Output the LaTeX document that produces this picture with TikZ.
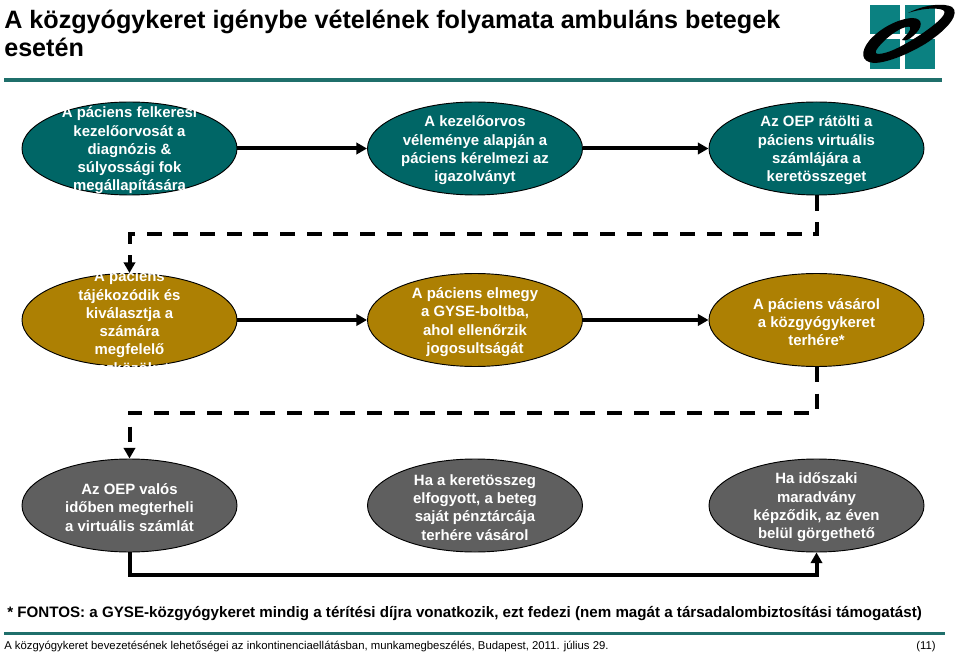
\documentclass[tikz,border=0pt]{standalone}
\usepackage{fontspec}
\setmainfont{Liberation Sans}
\usetikzlibrary{shapes.geometric,arrows.meta}
\definecolor{teal1}{HTML}{006666}
\definecolor{logoteal}{HTML}{0B8181}
\definecolor{ochre}{HTML}{AD8003}
\definecolor{greyb}{HTML}{5F5F5F}
\definecolor{rulec}{HTML}{1F6F6B}
\tikzset{
 x=0.75pt,y=-0.75pt,
 oval/.style={ellipse,draw=black,line width=0.7pt,minimum width=161.25pt,minimum height=69.75pt,inner sep=0pt},
 ovaltext/.style={text=white,align=center,font=\fontsize{11.2pt}{13.7pt}\selectfont\bfseries,inner sep=0pt,yshift=-1.5pt},
 tealoval/.style={oval,fill=teal1},
 ochreoval/.style={oval,fill=ochre},
 greyoval/.style={oval,fill=greyb},
 link/.style={line width=3pt,draw=black},
 harrow/.style={link,-{Triangle[length=8pt,width=8.5pt]}},
 dashlink/.style={link,dash pattern=on 11.4pt off 8.6pt,-{Triangle[length=8pt,width=8.5pt]}},
 rulebar/.style={fill=rulec,draw=none},
}
\begin{document}
\begin{tikzpicture}
\useasboundingbox (0,0) rectangle (960,652);
% title
\node[anchor=north west,inner sep=0pt,align=left,font=\fontsize{18.87pt}{21pt}\selectfont\bfseries] (title) at (4,10) {A közgyógykeret igénybe vételének folyamata ambuláns betegek\\esetén};
% logo
\fill[logoteal] (870,5) rectangle (900,34);
\fill[logoteal] (905,5) rectangle (935,34);
\fill[logoteal] (870,39) rectangle (900,69);
\fill[logoteal] (905,39) rectangle (935,69);
\fill[black] (908,13) .. controls (925,4) and (945,3) .. (952,7) .. controls (960,13) and (950,28) .. (925,44) .. controls (905,56) and (885,63) .. (874,63) .. controls (860,62) and (861,51) .. (869,41) .. controls (879,29) and (897,19) .. (912,18) .. controls (924,18) and (923,28) .. (913,36) .. controls (909,40) and (905,41) .. (902,40) .. controls (906,35) and (912,30) .. (910,27) .. controls (906,25) and (893,32) .. (884,41) .. controls (876,49) and (873,54) .. (878,54) .. controls (888,54) and (905,45) .. (923,33) .. controls (940,21) and (948,13) .. (943,10) .. controls (935,7) and (920,9) .. (908,13) -- cycle;
\fill[rulebar] (4,78) rectangle (942,82);
% ovals
\node[tealoval,label={[ovaltext]center:A páciens felkeresi\\kezelőorvosát a\\diagnózis \&\\súlyossági fok\\megállapítására}] (a1) at (129.5,148.5) {};
\node[tealoval,label={[ovaltext]center:A kezelőorvos\\véleménye alapján a\\páciens kérelmezi az\\igazolványt}] (a2) at (475,148.5) {};
\node[tealoval,label={[ovaltext]center:Az OEP rátölti a\\páciens virtuális\\számlájára a\\keretösszeget}] (a3) at (816.5,148.5) {};
\node[ochreoval,label={[ovaltext]center:A páciens\\tájékozódik és\\kiválasztja a\\számára\\megfelelő\\eszközöket}] (b1) at (129.5,320) {};
\node[ochreoval,label={[ovaltext]center:A páciens elmegy\\a GYSE-boltba,\\ahol ellenőrzik\\jogosultságát}] (b2) at (475,320) {};
\node[ochreoval,label={[ovaltext]center:A páciens vásárol\\a közgyógykeret\\terhére*}] (b3) at (816.5,320) {};
\node[greyoval,label={[ovaltext]center:Az OEP valós\\időben megterheli\\a virtuális számlát}] (c1) at (129.5,505.5) {};
\node[greyoval,label={[ovaltext]center:Ha a keretösszeg\\elfogyott, a beteg\\saját pénztárcája\\terhére vásárol}] (c2) at (475,505.5) {};
\node[greyoval,label={[ovaltext]center:Ha időszaki\\maradvány\\képződik, az éven\\belül görgethető}] (c3) at (816.5,505.5) {};
% row links
\draw[harrow] (a1) -- (a2);
\draw[harrow] (a2) -- (a3);
\draw[harrow] (b1) -- (b2);
\draw[harrow] (b2) -- (b3);
% dashed
\coordinate (d1) at (a3.south |- 0,234);
\coordinate (d2) at (a1.north |- 0,234);
\coordinate (e1) at (b3.south |- 0,412.5);
\coordinate (e2) at (c1.north |- 0,412.5);
\draw[dashlink] (a3.south) -- (d1) -- (d2) -- (b1.north);
\draw[dashlink] (b3.south) -- (e1) -- (e2) -- (c1.north);
% solid bottom
\coordinate (f1) at (c1.south |- 0,575);
\coordinate (f2) at (c3.south |- 0,575);
\draw[harrow,line join=miter] (c1.south) -- (f1) -- (f2) -- (c3.south);
% footnote
\node[anchor=base west,inner sep=0pt,font=\fontsize{11.36pt}{14pt}\selectfont\bfseries] (note) at (7,617) {* FONTOS: a GYSE-közgyógykeret mindig a térítési díjra vonatkozik, ezt fedezi (nem magát a társadalombiztosítási támogatást)};
\fill[rulebar] (4,632) rectangle (945,635);
\node[anchor=base west,inner sep=0pt,font=\fontsize{8.5pt}{11pt}\selectfont] (foot) at (4,649) {A közgyógykeret bevezetésének lehetőségei az inkontinenciaellátásban, munkamegbeszélés, Budapest, 2011. július 29.};
\node[anchor=base east,inner sep=0pt,font=\fontsize{8.5pt}{11pt}\selectfont] (page) at (936,649) {(11)};
\end{tikzpicture}
\end{document}
